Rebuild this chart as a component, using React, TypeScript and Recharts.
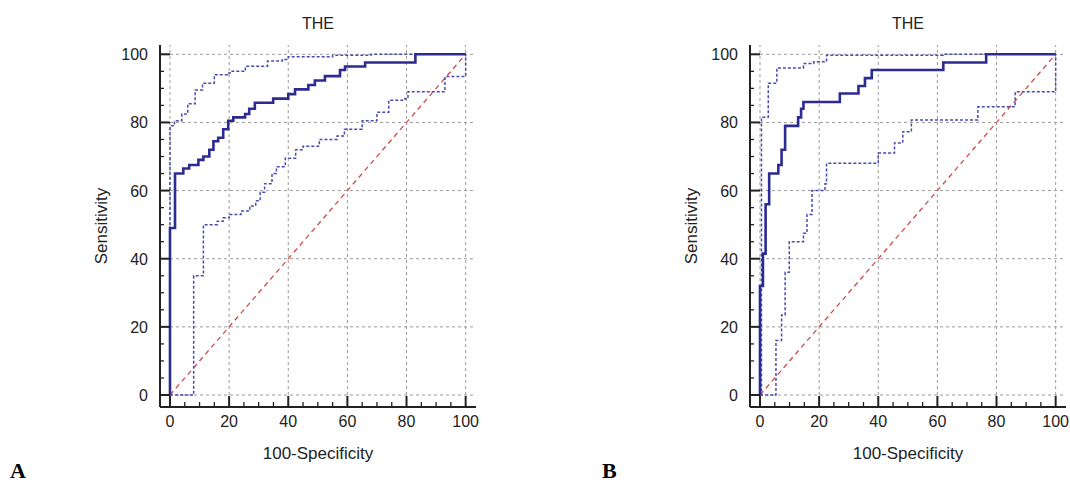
import React from 'react';
import { LineChart, Line, XAxis, YAxis, ReferenceLine } from 'recharts';

type Pt = { x: number; y: number };

const mainA: Pt[] = [
  { x: 0, y: 0 }, { x: 0, y: 49 }, { x: 1.7, y: 65 }, { x: 4.5, y: 66.5 }, { x: 6.5, y: 67.5 },
  { x: 9.6, y: 69 }, { x: 11.3, y: 70 }, { x: 13.3, y: 72 }, { x: 14.7, y: 74.5 }, { x: 16.3, y: 75.5 },
  { x: 18, y: 78 }, { x: 19.7, y: 80.5 }, { x: 21.4, y: 81.5 }, { x: 25.4, y: 82.5 }, { x: 26.8, y: 84 },
  { x: 28.7, y: 85.8 }, { x: 34.9, y: 87 }, { x: 40, y: 88.3 }, { x: 42.3, y: 89.7 }, { x: 46.8, y: 91 },
  { x: 49, y: 92.3 }, { x: 52.4, y: 93.6 }, { x: 57.5, y: 95.4 }, { x: 59.2, y: 96.4 }, { x: 66, y: 97.6 },
  { x: 83, y: 100 }, { x: 100, y: 100 },
];
const upperA: Pt[] = [
  { x: 0, y: 0 }, { x: 0, y: 79 }, { x: 1.5, y: 80.5 }, { x: 4, y: 82.5 }, { x: 6, y: 85.5 },
  { x: 8.5, y: 89.5 }, { x: 11, y: 91.5 }, { x: 15, y: 94 }, { x: 19.5, y: 94.5 }, { x: 21, y: 95 },
  { x: 25.5, y: 96.5 }, { x: 33, y: 98 }, { x: 38, y: 98.5 }, { x: 40, y: 99.3 }, { x: 55, y: 99.7 },
  { x: 68, y: 100 }, { x: 100, y: 100 },
];
const lowerA: Pt[] = [
  { x: 0, y: 0 }, { x: 8, y: 35 }, { x: 11.3, y: 50 }, { x: 16, y: 51 }, { x: 18, y: 52 },
  { x: 20, y: 53 }, { x: 24, y: 54 }, { x: 27, y: 55.5 }, { x: 29, y: 57 }, { x: 30.5, y: 59.5 },
  { x: 32, y: 62 }, { x: 34.5, y: 65 }, { x: 36, y: 67 }, { x: 39, y: 69.5 }, { x: 42.5, y: 72 },
  { x: 45, y: 73 }, { x: 50.5, y: 75 }, { x: 56.5, y: 76 }, { x: 59, y: 78 }, { x: 65, y: 80.5 },
  { x: 70, y: 83 }, { x: 74, y: 86.5 }, { x: 79.5, y: 87 }, { x: 80.5, y: 89 }, { x: 93, y: 93.5 },
  { x: 100, y: 100 },
];

const mainB: Pt[] = [
  { x: 0, y: 0 }, { x: 0, y: 32 }, { x: 1, y: 41.5 }, { x: 1.9, y: 56 }, { x: 3.1, y: 65 },
  { x: 6.2, y: 67.5 }, { x: 7.3, y: 72 }, { x: 8.5, y: 79 }, { x: 12.9, y: 81.5 }, { x: 13.9, y: 84 },
  { x: 14.7, y: 86 }, { x: 27, y: 88.5 }, { x: 33.3, y: 90.7 }, { x: 35.5, y: 93 }, { x: 37.8, y: 95.4 },
  { x: 62, y: 97.6 }, { x: 76.5, y: 100 }, { x: 100, y: 100 },
];
const upperB: Pt[] = [
  { x: 0, y: 0 }, { x: 0.5, y: 81.5 }, { x: 2.8, y: 91.5 }, { x: 5.7, y: 96 }, { x: 14.7, y: 97.3 },
  { x: 18.2, y: 97.8 }, { x: 22.5, y: 99.7 }, { x: 62, y: 100 }, { x: 100, y: 100 },
];
const lowerB: Pt[] = [
  { x: 0, y: 0 }, { x: 5.4, y: 16 }, { x: 7.3, y: 23.5 }, { x: 8.5, y: 36 }, { x: 9.9, y: 45 },
  { x: 14.7, y: 47.5 }, { x: 15.9, y: 53 }, { x: 17.6, y: 60 }, { x: 22, y: 62 }, { x: 22.5, y: 68 },
  { x: 40, y: 71 }, { x: 45.5, y: 74 }, { x: 48.3, y: 77.3 }, { x: 51.2, y: 80.7 }, { x: 73.7, y: 84.6 },
  { x: 86.3, y: 89 }, { x: 100, y: 100 },
];

const diagonal: Pt[] = [{ x: 0, y: 0 }, { x: 100, y: 100 }];
const axisTicks = [0, 5, 10, 15, 20, 25, 30, 35, 40, 45, 50, 55, 60, 65, 70, 75, 80, 85, 90, 95, 100];
const gridValues = [0, 20, 40, 60, 80, 100];

const X_DOMAIN: [number, number] = [-3.38, 103.5];
const Y_DOMAIN: [number, number] = [-3.52, 102.73];
const FONT = 'Arial, "Liberation Sans", sans-serif';
const INK = '#222';

const XTick = (props: any) => {
  const { x, y, payload } = props;
  const v = payload.value as number;
  const major = v % 20 === 0;
  return (
    <g>
      <line x1={x} x2={x} y1={y} y2={y - (major ? 11 : 5)} stroke={INK} strokeWidth={major ? 2 : 1.3} />
      {major && (
        <text x={x} y={y + 20} textAnchor="middle" fontSize={16} fill={INK} fontFamily={FONT}>{v}</text>
      )}
    </g>
  );
};

const YTick = (props: any) => {
  const { x, y, payload } = props;
  const v = payload.value as number;
  const major = v % 20 === 0;
  return (
    <g>
      <line x1={x} x2={x + (major ? 10 : 4)} y1={y} y2={y} stroke={INK} strokeWidth={major ? 2 : 1.3} />
      {major && (
        <text x={x - 12} y={y + 6} textAnchor="end" fontSize={16} fill={INK} fontFamily={FONT}>{v}</text>
      )}
    </g>
  );
};

const Panel = ({ main, upper, lower }: { main: Pt[]; upper: Pt[]; lower: Pt[] }) => (
  <LineChart width={480} height={484} margin={{ top: 45, right: 4, left: 60, bottom: 7 }}>
    <XAxis
      type="number"
      dataKey="x"
      domain={X_DOMAIN}
      allowDataOverflow
      ticks={axisTicks}
      interval={0}
      height={70}
      tickSize={0}
      tickMargin={0}
      tickLine={false}
      axisLine={{ stroke: INK, strokeWidth: 2 }}
      tick={<XTick />}
    />
    <YAxis
      type="number"
      dataKey="y"
      domain={Y_DOMAIN}
      allowDataOverflow
      ticks={axisTicks}
      interval={0}
      width={100}
      tickSize={0}
      tickMargin={0}
      tickLine={false}
      axisLine={{ stroke: INK, strokeWidth: 2 }}
      tick={<YTick />}
    />
    {gridValues.map((g) => (
      <ReferenceLine
        key={'h' + g}
        segment={[{ x: 0, y: g }, { x: X_DOMAIN[1], y: g }]}
        stroke="#9a9a9a"
        strokeWidth={1}
        strokeDasharray="3 3"
      />
    ))}
    {gridValues.map((g) => (
      <ReferenceLine
        key={'v' + g}
        segment={[{ x: g, y: 0 }, { x: g, y: Y_DOMAIN[1] }]}
        stroke="#9a9a9a"
        strokeWidth={1}
        strokeDasharray="3 3"
      />
    ))}
    <Line data={diagonal} dataKey="y" type="linear" stroke="#d24a4a" strokeWidth={1.3}
      strokeDasharray="5 4" dot={false} activeDot={false} isAnimationActive={false} />
    <Line data={lower} dataKey="y" type="stepAfter" stroke="#4a4ab4" strokeWidth={1.5}
      strokeDasharray="3 2" dot={false} activeDot={false} isAnimationActive={false} />
    <Line data={upper} dataKey="y" type="stepAfter" stroke="#4a4ab4" strokeWidth={1.5}
      strokeDasharray="3 2" dot={false} activeDot={false} isAnimationActive={false} />
    <Line data={main} dataKey="y" type="stepAfter" stroke="#2b2b92" strokeWidth={2.6}
      dot={false} activeDot={false} isAnimationActive={false} />
  </LineChart>
);

const Labels = ({ dx, letter, letterX }: { dx: number; letter: string; letterX: number }) => (
  <g>
    <text x={318 + dx} y={29} textAnchor="middle" fontSize={16} fill={INK} fontFamily={FONT}>THE</text>
    <text x={107 + dx} y={226} textAnchor="middle" fontSize={17} fill={INK} fontFamily={FONT}
      transform={`rotate(-90, ${107 + dx}, 226)`}>Sensitivity</text>
    <text x={318 + dx} y={459} textAnchor="middle" fontSize={17} fill={INK} fontFamily={FONT}>100-Specificity</text>
    <text x={letterX} y={478} fontSize={22} fontWeight="bold" fill="#000"
      fontFamily='"Times New Roman", "Liberation Serif", serif'>{letter}</text>
  </g>
);

export default function App() {
  return (
    <div style={{ position: 'absolute', left: 0, top: 0, width: 1070, height: 484, background: '#fff', overflow: 'hidden' }}>
      <div style={{ position: 'absolute', left: 0, top: 0 }}>
        <Panel main={mainA} upper={upperA} lower={lowerA} />
      </div>
      <div style={{ position: 'absolute', left: 590, top: 0 }}>
        <Panel main={mainB} upper={upperB} lower={lowerB} />
      </div>
      <svg width={1070} height={484} style={{ position: 'absolute', left: 0, top: 0, pointerEvents: 'none' }}>
        <Labels dx={0} letter="A" letterX={10} />
        <Labels dx={590} letter="B" letterX={602} />
      </svg>
    </div>
  );
}
